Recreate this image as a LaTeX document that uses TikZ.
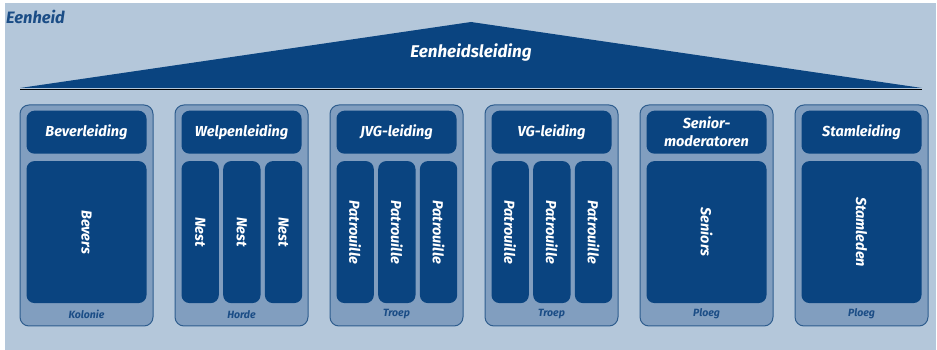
\documentclass[tikz,border=0pt]{standalone}
\usepackage{fontspec}
\setmainfont{Fira Sans}
\usepackage{graphicx}
\usepackage{tikz}
\usetikzlibrary{positioning}
\definecolor{bgblue}{HTML}{B4C7DA}
\definecolor{darkblue}{HTML}{0A4480}
\definecolor{midblue}{HTML}{819EBF}
\definecolor{edgeblue}{HTML}{2E5D8E}
\definecolor{tagblue}{HTML}{1B4D86}
\definecolor{baseline}{HTML}{8EA8C6}
\tikzset{
    x=1pt, y=1pt,
    unit/.style = {draw=edgeblue, fill=midblue, line width=1pt, rounded corners=9pt,
        minimum width=133pt, minimum height=221pt, inner sep=0pt},
    lead/.style = {fill=darkblue, text=white, rounded corners=8pt, align=center,
        minimum width=120pt, minimum height=43pt, inner sep=0pt,
        font=\bfseries\itshape\fontsize{14.5}{18}\selectfont},
    group/.style = {fill=darkblue, text=white, rounded corners=8pt,
        minimum width=120pt, minimum height=142pt, inner sep=0pt,
        font=\bfseries\itshape\fontsize{14.5}{15}\selectfont},
    sub/.style = {group, minimum width=37.3pt},
    tag/.style = {text=tagblue, inner sep=1pt, font=\bfseries\itshape\fontsize{10.5}{11}\selectfont}
}
\begin{document}
\begin{tikzpicture}
        \useasboundingbox (0,0) rectangle (937,350);
        \fill[bgblue] (5,0) rectangle (936,347);
        % Roof with the leading of the whole unit
        \fill[darkblue] (20,262) -- (471,328) -- (922,262) -- cycle;
        \draw[baseline, line width=1pt] (20,260.5) -- (922,260.5);
        \node[text=tagblue, font=\bfseries\itshape\fontsize{16.5}{17}\selectfont] (eenheid) at (35.5,333) {Eenheid};
        \node[text=white, font=\bfseries\itshape\fontsize{17}{18}\selectfont] (eenheidsleiding) at (471,297) {Eenheidsleiding};
        % The six sections
        \node[unit] (kolonie) at (86.5,134.5) {};
        \node[unit] (horde) [right=21pt of kolonie] {};
        \node[unit] (jvgtroep) [right=21pt of horde] {};
        \node[unit] (vgtroep) [right=21pt of jvgtroep] {};
        \node[unit] (seniorploeg) [right=21pt of vgtroep] {};
        \node[unit] (stamploeg) [right=21pt of seniorploeg] {};
        % Leading of each section
        \node[lead] (beverleiding) [below=6pt of kolonie.north] {Beverleiding};
        \node[lead] (welpenleiding) [below=6pt of horde.north] {Welpenleiding};
        \node[lead] (jvgleiding) [below=6pt of jvgtroep.north] {JVG-leiding};
        \node[lead] (vgleiding) [below=6pt of vgtroep.north] {VG-leiding};
        \node[lead] (moderatoren) [below=6pt of seniorploeg.north] {Senior-\\moderatoren};
        \node[lead] (stamleiding) [below=6pt of stamploeg.north] {Stamleiding};
        % Members
        \node[group] (bevers) [below=7pt of beverleiding] {\rotatebox{-90}{Bevers}};
        \node[sub] (nestA) [below right=7pt and 0pt of welpenleiding.south west] {\rotatebox{-90}{Nest}};
        \node[sub] (nestB) [right=4pt of nestA] {\rotatebox{-90}{Nest}};
        \node[sub] (nestC) [right=4pt of nestB] {\rotatebox{-90}{Nest}};
        \node[sub] (jvgA) [below right=7pt and 0pt of jvgleiding.south west] {\rotatebox{-90}{Patrouille}};
        \node[sub] (jvgB) [right=4pt of jvgA] {\rotatebox{-90}{Patrouille}};
        \node[sub] (jvgC) [right=4pt of jvgB] {\rotatebox{-90}{Patrouille}};
        \node[sub] (vgA) [below right=7pt and 0pt of vgleiding.south west] {\rotatebox{-90}{Patrouille}};
        \node[sub] (vgB) [right=4pt of vgA] {\rotatebox{-90}{Patrouille}};
        \node[sub] (vgC) [right=4pt of vgB] {\rotatebox{-90}{Patrouille}};
        \node[group] (seniors) [below=7pt of moderatoren] {\rotatebox{-90}{Seniors}};
        \node[group] (stamleden) [below=7pt of stamleiding] {\rotatebox{-90}{Stamleden}};
        % Section names
        \node[tag] (koloniename) [above=6.5pt of kolonie.south] {Kolonie};
        \node[tag] (hordename) [above=6.5pt of horde.south] {Horde};
        \node[tag] (jvgname) [above=6.5pt of jvgtroep.south] {Troep};
        \node[tag] (vgname) [above=6.5pt of vgtroep.south] {Troep};
        \node[tag] (seniorname) [above=6.5pt of seniorploeg.south] {Ploeg};
        \node[tag] (stamname) [above=6.5pt of stamploeg.south] {Ploeg};
\end{tikzpicture}
\end{document}
